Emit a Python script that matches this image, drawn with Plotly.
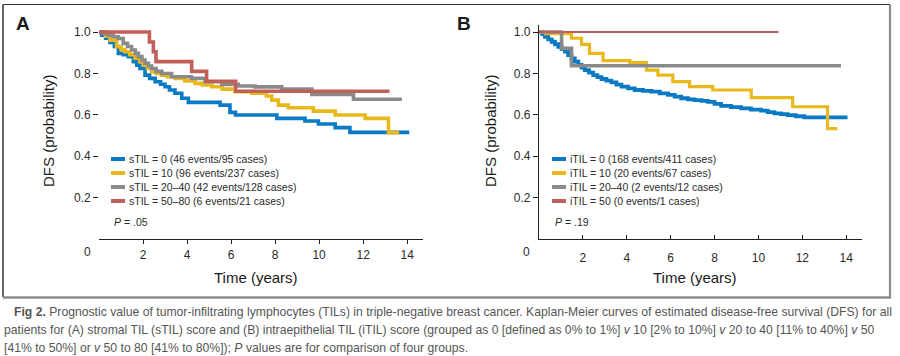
import plotly.graph_objects as go

W, H = 900, 356
def px(x): return x / W
def py(y): return 1 - y / H

# ---------------- data ----------------
# Panel A: stromal TIL (sTIL)
a_labels = ["sTIL = 0 (46 events/95 cases)", "sTIL = 10 (96 events/237 cases)",
            "sTIL = 20\u201340 (42 events/128 cases)", "sTIL = 50\u201380 (6 events/21 cases)"]
a0_t = [0, 0.12, 0.3, 0.5, 0.7, 0.88, 1.1, 1.33, 1.56, 1.72, 1.86, 2.09, 2.3, 2.55, 2.8, 3.0, 3.2,
        3.45, 3.76, 4.06, 5.5, 5.95, 6.2, 8.08, 9.36, 9.97, 10.73, 11.4, 14.1]
a0_s = [1.0, 0.985, 0.97, 0.95, 0.93, 0.897, 0.89, 0.881, 0.857, 0.84, 0.824, 0.792, 0.776, 0.760,
        0.748, 0.736, 0.72, 0.704, 0.680, 0.660, 0.647, 0.612, 0.599, 0.583, 0.570, 0.556, 0.538, 0.515, 0.515]
a10_t = [0, 0.3, 0.5, 0.8, 1.0, 1.18, 1.4, 1.64, 1.85, 2.02, 2.2, 2.39, 2.6, 2.85, 3.1, 3.45, 3.9, 4.36,
         4.7, 5.12, 5.6, 6.18, 6.94, 7.6, 7.85, 8.15, 8.6, 9.74, 10.73, 12.09, 13.15, 13.64]
a10_s = [1.0, 0.98, 0.961, 0.929, 0.915, 0.905, 0.89, 0.873, 0.857, 0.841, 0.825, 0.808, 0.80, 0.792,
         0.784, 0.776, 0.764, 0.752, 0.744, 0.736, 0.724, 0.712, 0.704, 0.691, 0.671, 0.647, 0.634,
         0.618, 0.599, 0.583, 0.514, 0.514]
a20_t = [0, 0.2, 0.42, 0.65, 0.88, 1.1, 1.3, 1.48, 1.65, 1.79, 1.95, 2.09, 2.25, 2.39, 2.6, 2.85, 3.3,
         4.2, 4.82, 5.58, 6.33, 7.09, 8.3, 9.67, 11.56, 13.76]
a20_s = [1.0, 0.992, 0.985, 0.977, 0.969, 0.945, 0.93, 0.913, 0.897, 0.881, 0.865, 0.849, 0.836, 0.824,
         0.81, 0.800, 0.784, 0.776, 0.760, 0.747, 0.739, 0.735, 0.725, 0.699, 0.675, 0.675]
a50_t = [0, 2.29, 2.47, 2.59, 4.21, 4.89, 6.21, 13.2]
a50_s = [1.0, 0.952, 0.905, 0.857, 0.810, 0.762, 0.714, 0.714]

# Panel B: intraepithelial TIL (iTIL)
b_labels = ["iTIL = 0 (168 events/411 cases)", "iTIL = 10 (20 events/67 cases)",
            "iTIL = 20\u201340 (2 events/12 cases)", "iTIL = 50 (0 events/1 cases)"]
b0_t = [0, 0.15, 0.27, 0.42, 0.58, 0.73, 0.88, 1.03, 1.18, 1.33, 1.48, 1.63, 1.79, 1.94, 2.09, 2.28,
        2.47, 2.66, 2.85, 3.07, 3.3, 3.53, 3.76, 4.06, 4.36, 4.74, 5.12, 5.5, 5.88, 6.18, 6.48, 6.79,
        7.09, 7.4, 7.7, 8.0, 8.3, 8.75, 9.21, 9.66, 10.12, 10.42, 10.73, 11.03, 11.33, 11.7, 12.09, 14.06]
b0_s = [1.0, 0.99, 0.977, 0.965, 0.953, 0.941, 0.929, 0.917, 0.905, 0.889, 0.873, 0.857, 0.841, 0.828,
        0.816, 0.804, 0.792, 0.782, 0.773, 0.765, 0.757, 0.746, 0.736, 0.728, 0.72, 0.716, 0.712, 0.704,
        0.696, 0.688, 0.68, 0.675, 0.671, 0.667, 0.663, 0.653, 0.643, 0.637, 0.631, 0.625, 0.620, 0.613,
        0.607, 0.603, 0.599, 0.593, 0.588, 0.588]
b10_t = [0, 0.3, 1.48, 1.94, 2.3, 2.92, 4.14, 4.9, 5.42, 6.1, 6.86, 7.92, 9.67, 11.56, 13.15, 13.6]
b10_s = [1.0, 0.992, 0.97, 0.94, 0.897, 0.862, 0.852, 0.816, 0.792, 0.76, 0.736, 0.72, 0.683, 0.639, 0.533, 0.533]
b20_t = [0, 1.03, 1.48, 13.76]
b20_s = [1.0, 0.921, 0.837, 0.837]
b50_t = [0, 10.92]
b50_s = [1.0, 1.0]

y_ticks = [0.2, 0.4, 0.6, 0.8, 1.0]
y_ticktext = ["0.2", "0.4", "0.6", "0.8", "1.0"]
x_ticks = [2, 4, 6, 8, 10, 12, 14]
x_ticktext = ["2", "4", "6", "8", "10", "12", "14"]
p_a, p_b = ".05", ".19"

colors = ["#0a7ac4", "#e9b81d", "#8a8a8a", "#c25f58"]

# ---------------- figure ----------------
fig = go.Figure()
a_series = [(a0_t, a0_s), (a10_t, a10_s), (a20_t, a20_s), (a50_t, a50_s)]
b_series = [(b0_t, b0_s), (b10_t, b10_s), (b20_t, b20_s), (b50_t, b50_s)]
for i, (t, s) in enumerate(a_series):
    fig.add_trace(go.Scatter(x=t, y=s, mode="lines", line=dict(color=colors[i], width=3.6, shape="hv"),
                             xaxis="x", yaxis="y", showlegend=False, hoverinfo="skip"))
b_widths = [3.8, 3.2, 3.6, 2.0]
for i, (t, s) in enumerate(b_series):
    fig.add_trace(go.Scatter(x=t, y=s, mode="lines", line=dict(color=colors[i], width=b_widths[i], shape="hv"),
                             xaxis="x2", yaxis="y2", showlegend=False, hoverinfo="skip"))

tickfont = dict(family="Liberation Sans, Arial, sans-serif", size=12, color="#2a2a2a")
yr = [0, 1.034]
xr = [0, 14.72]
ydom = [py(239), py(25)]
common_x = dict(range=xr, tickvals=x_ticks, ticktext=x_ticktext, showgrid=False, zeroline=False,
                showline=True, linecolor="#222", linewidth=1.3, tickcolor="#222", ticklen=4,
                tickwidth=1, tickfont=tickfont)
common_y = dict(range=yr, domain=ydom, tickvals=y_ticks, ticktext=y_ticktext, showgrid=False,
                zeroline=False, ticks="outside", ticklen=5, tickcolor="#222", tickwidth=1, tickfont=tickfont)

fig.update_layout(
    width=W, height=H, margin=dict(l=0, r=0, t=0, b=0),
    paper_bgcolor="white", plot_bgcolor="white",
    xaxis=dict(domain=[px(99), px(423)], anchor="y", ticks="outside", **common_x),
    yaxis=dict(anchor="x", showline=False, **common_y),
    xaxis2=dict(domain=[px(539), px(862)], anchor="y2", ticks="inside", ticklabelstandoff=7, **common_x),
    yaxis2=dict(anchor="x2", showline=True, linecolor="#222", linewidth=1.3, **common_y),
)

ann = []
shapes = []
font_t = "Liberation Sans, Arial, sans-serif"
for letter, x0 in (("A", 14), ("B", 455)):
    ann.append(dict(text="<b>%s</b>" % letter, x=px(x0), y=py(24), xref="paper", yref="paper",
                    xanchor="left", yanchor="middle", showarrow=False,
                    font=dict(family=font_t, size=19, color="#1a1a1a")))
for xc in (49, 491):
    ann.append(dict(text="DFS (probability)", x=px(xc), y=py(131), xref="paper", yref="paper",
                    textangle=-90, xanchor="center", yanchor="middle", showarrow=False,
                    font=dict(family=font_t, size=15, color="#1a1a1a")))
for xc in (256, 695):
    ann.append(dict(text="Time (years)", x=px(xc), y=py(277), xref="paper", yref="paper",
                    xanchor="center", yanchor="middle", showarrow=False,
                    font=dict(family=font_t, size=15, color="#1a1a1a")))
for xc in (87, 526):
    ann.append(dict(text="0", x=px(xc), y=py(252), xref="paper", yref="paper",
                    xanchor="center", yanchor="middle", showarrow=False, font=tickfont))

rows = [159, 173, 187, 201]
for labels, sx, tx in ((a_labels, 111, 127), (b_labels, 552, 568)):
    for i, lab in enumerate(labels):
        yc = rows[i]
        shapes.append(dict(type="rect", xref="paper", yref="paper", x0=px(sx), x1=px(sx + 14),
                           y0=py(yc + 2), y1=py(yc - 2), fillcolor=colors[i], line=dict(width=0)))
        ann.append(dict(text=lab, x=px(tx), y=py(yc), xref="paper", yref="paper",
                        xanchor="left", yanchor="middle", showarrow=False,
                        font=dict(family=font_t, size=10.5, color="#2a2a2a")))
for pv, x0 in ((p_a, 112), (p_b, 553)):
    ann.append(dict(text="<i>P</i> = %s" % pv, x=px(x0), y=py(222), xref="paper", yref="paper",
                    xanchor="left", yanchor="middle", showarrow=False,
                    font=dict(family=font_t, size=10.5, color="#2a2a2a")))

# outer frame
shapes += [
    dict(type="line", xref="paper", yref="paper", x0=px(3), x1=px(890), y0=py(4.5), y1=py(4.5),
         line=dict(color="#333", width=1.2)),
    dict(type="line", xref="paper", yref="paper", x0=px(3), x1=px(3), y0=py(4.5), y1=py(297),
         line=dict(color="#333", width=1.5)),
    dict(type="line", xref="paper", yref="paper", x0=px(890), x1=px(890), y0=py(4.5), y1=py(297),
         line=dict(color="#8c8c8c", width=2.2)),
    dict(type="line", xref="paper", yref="paper", x0=px(3), x1=px(891), y0=py(297.5), y1=py(297.5),
         line=dict(color="#8c8c8c", width=2.6)),
]

cap_font = dict(family="Liberation Sans, Arial, sans-serif", size=12.2, color="#555")
captions = [
    (12, 312, "<b>Fig 2.</b> Prognostic value of tumor-infiltrating lymphocytes (TILs) in triple-negative breast cancer. Kaplan-Meier curves of estimated disease-free survival (DFS) for all"),
    (2, 330, "patients for (A) stromal TIL (sTIL) score and (B) intraepithelial TIL (iTIL) score (grouped as 0 [defined as 0% to 1%] <i>v</i> 10 [2% to 10%] <i>v</i> 20 to 40 [11% to 40%] <i>v</i> 50"),
    (2, 348, "[41% to 50%] or <i>v</i> 50 to 80 [41% to 80%]); <i>P</i> values are for comparison of four groups."),
]
for x0, y0, txt in captions:
    ann.append(dict(text=txt, x=px(x0), y=py(y0), xref="paper", yref="paper",
                    xanchor="left", yanchor="middle", showarrow=False, font=cap_font))

fig.update_layout(annotations=ann, shapes=shapes)
fig.write_html("out.html", config={"displayModeBar": False},
               post_script="document.body.style.margin='0px';document.body.style.overflow='hidden';")
